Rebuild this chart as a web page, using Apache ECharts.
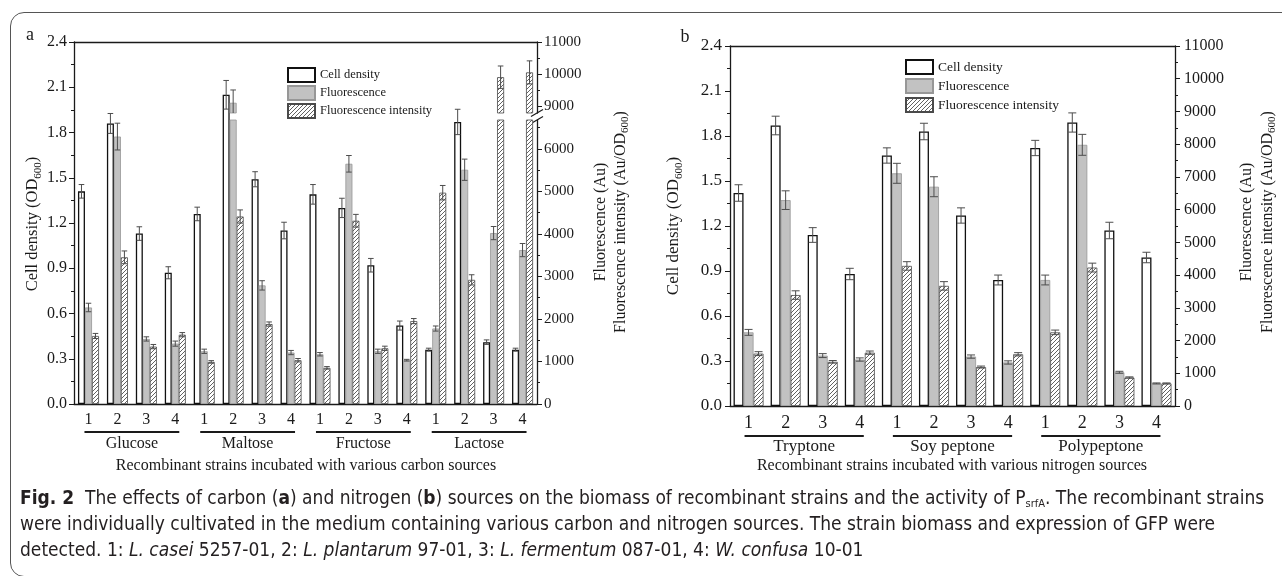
<!DOCTYPE html>
<html>
<head>
<meta charset="utf-8">
<script src="https://cdn.jsdelivr.net/npm/echarts@6/dist/echarts.min.js"></script>
<style>
  html, body { margin: 0; padding: 0; background: #fff; }
  #wrap { position: relative; width: 1282px; height: 576px; overflow: hidden; }
  #chart { position: absolute; left: 0; top: 0; width: 1282px; height: 576px; }
  #frame { position: absolute; left: 10px; top: 12px; width: 1320px; height: 563px;
           border: 1.4px solid #555; border-radius: 14px; pointer-events: none; }
  #caption { position: absolute; left: 20px; top: 484px; color: #231f20; white-space: nowrap;
             font-family: "Liberation Sans Narrow", "DejaVu Sans Condensed", sans-serif;
             font-size: 19px; line-height: 26px; }
  #caption sub { font-size: 11px; vertical-align: -3px; line-height: 0; }
</style>
</head>
<body>
<div id="wrap">
  <div id="chart"></div>
  <div id="frame"></div>
  <div id="caption">
    <div><b>Fig. 2</b>&nbsp; The effects of carbon (<b>a</b>) and nitrogen (<b>b</b>) sources on the biomass of recombinant strains and the activity of P<sub>srfA</sub>. The recombinant strains</div>
    <div>were individually cultivated in the medium containing various carbon and nitrogen sources. The strain biomass and expression of GFP were</div>
    <div>detected. 1: <i>L. casei</i> 5257-01, 2: <i>L. plantarum</i> 97-01, 3: <i>L. fermentum</i> 087-01, 4: <i>W. confusa</i> 10-01</div>
  </div>
</div>
<script>
// strains 1-4 inside every medium group
const strains = ['1', '2', '3', '4'];
const carbonSources = ['Glucose', 'Maltose', 'Fructose', 'Lactose'];
const nitrogenSources = ['Tryptone', 'Soy peptone', 'Polypeptone'];

// tick values
const fluorTicksLow = [0, 1000, 2000, 3000, 4000, 5000, 6000];
const fluorMinorLow = [500, 1500, 2500, 3500, 4500, 5500, 6500];
const fluorTicksUp = [9000, 10000, 11000];
const fluorMinorUp = [9500, 10500];

// panel a : carbon sources (Glucose 1-4, Maltose 1-4, Fructose 1-4, Lactose 1-4)
const aDensity    = [1.41, 1.86, 1.13, 0.87, 1.26, 2.05, 1.49, 1.15, 1.39, 1.30, 0.92, 0.52, 0.36, 1.87, 0.41, 0.36];
const aDensityErr = [0.045, 0.066, 0.045, 0.04, 0.045, 0.095, 0.05, 0.055, 0.065, 0.064, 0.045, 0.03, 0.01, 0.084, 0.015, 0.01];
const aFluor      = [2270, 6290, 1530, 1420, 1240, 9100, 2790, 1210, 1170, 5650, 1240, 1030, 1775, 5510, 4020, 3620];
const aFluorErr   = [100, 315, 50, 60, 50, 400, 110, 50, 40, 195, 50, 20, 60, 250, 155, 155];
const aInten      = [1600, 3450, 1350, 1630, 990, 4410, 1880, 1030, 850, 4310, 1310, 1950, 4970, 2920, 9900, 10050];
const aIntenErr   = [60, 150, 50, 50, 30, 155, 50, 40, 30, 150, 50, 60, 170, 120, 350, 360];

// panel b : nitrogen sources (Tryptone 1-4, Soy peptone 1-4, Polypeptone 1-4)
const bDensity    = [1.42, 1.87, 1.14, 0.88, 1.67, 1.83, 1.27, 0.84, 1.72, 1.89, 1.17, 0.99];
const bDensityErr = [0.055, 0.062, 0.049, 0.038, 0.051, 0.055, 0.051, 0.033, 0.051, 0.064, 0.055, 0.035];
const bFluor      = [2250, 6290, 1540, 1420, 7110, 6700, 1510, 1330, 3850, 7980, 1030, 690];
const bFluorErr   = [90, 285, 60, 50, 305, 305, 50, 50, 150, 320, 30, 15];
const bInten      = [1600, 3390, 1350, 1630, 4280, 3670, 1190, 1580, 2250, 4230, 870, 690];
const bIntenErr   = [60, 130, 40, 50, 130, 130, 30, 50, 70, 135, 20, 15];

const aCats = carbonSources.flatMap(s => strains.map(n => s + '-' + n));
const bCats = nitrogenSources.flatMap(s => strains.map(n => s + '-' + n));

const FONT = '"Liberation Serif", "Times New Roman", serif';
const INK = '#1a1a1a';

function makeHatch() {
    const c = document.createElement('canvas');
    c.width = 4; c.height = 4;
    const g = c.getContext('2d');
    g.fillStyle = '#fff';
    g.fillRect(0, 0, 4, 4);
    g.strokeStyle = '#505050';
    g.lineWidth = 0.9;
    g.beginPath();
    g.moveTo(-1, 5); g.lineTo(5, -1);
    g.moveTo(-1, 1); g.lineTo(1, -1);
    g.moveTo(3, 5); g.lineTo(5, 3);
    g.stroke();
    return c;
}

const barStyles = {
    'Cell density': { color: '#fff', borderColor: '#111', borderWidth: 1.3 },
    'Fluorescence': { color: '#c2c2c2', borderColor: '#979797', borderWidth: 0.8 },
    'Fluorescence intensity': { color: { image: makeHatch(), repeat: 'repeat' }, borderColor: '#4a4a4a', borderWidth: 0.8 }
};

function bar(name, xi, yi, data, w, real) {
    return {
        type: 'bar', name: real ? name : ('_' + name + xi), xAxisIndex: xi, yAxisIndex: yi,
        data: data, barWidth: w, barGap: '0%', itemStyle: barStyles[name], silent: true
    };
}

function errBars(xi, yi, values, errs, slot, w) {
    return {
        type: 'custom', xAxisIndex: xi, yAxisIndex: yi, clip: true, silent: true, z: 5,
        data: values.map((v, i) => [i, v, errs[i]]),
        renderItem(params, api) {
            const i = api.value(0), v = api.value(1), e = api.value(2);
            const x = api.coord([i, v])[0] + slot * w;
            const top = api.coord([i, v + e])[1];
            const bot = api.coord([i, v - e])[1];
            const hw = w * 0.4;
            const st = { stroke: '#4d4d4d', lineWidth: 1 };
            return {
                type: 'group', children: [
                    { type: 'line', shape: { x1: x, y1: top, x2: x, y2: bot }, style: st },
                    { type: 'line', shape: { x1: x - hw, y1: top, x2: x + hw, y2: top }, style: st },
                    { type: 'line', shape: { x1: x - hw, y1: bot, x2: x + hw, y2: bot }, style: st }
                ]
            };
        }
    };
}

function catAxis(grid, cats, size, opts) {
    return Object.assign({
        type: 'category', gridIndex: grid, data: cats, position: 'bottom',
        axisLine: { lineStyle: { color: INK, width: 1.3 } },
        axisTick: { alignWithLabel: true, length: 5, lineStyle: { color: INK } },
        axisLabel: { interval: 0, margin: 8, fontFamily: FONT, fontSize: size, color: INK,
                     formatter: v => v.split('-').pop() },
        splitLine: { show: false }
    }, opts || {});
}
function groupAxis(grid, groups, size, margin) {
    return {
        type: 'category', gridIndex: grid, data: groups, position: 'bottom',
        axisLine: { show: false }, axisTick: { show: false },
        axisLabel: { interval: 0, margin: margin, fontFamily: FONT, fontSize: size, color: INK }
    };
}
function topLine(grid, cats) {
    return {
        type: 'category', gridIndex: grid, data: cats, position: 'top',
        axisLine: { lineStyle: { color: INK, width: 1.3 } },
        axisTick: { show: false }, axisLabel: { show: false }
    };
}
const plain = v => String(v);
function valAxis(grid, pos, min, max, opts) {
    return Object.assign({
        type: 'value', gridIndex: grid, position: pos, min: min, max: max,
        axisLine: { show: true, lineStyle: { color: INK, width: 1.3 } },
        axisTick: { show: true, length: 5, lineStyle: { color: INK } },
        splitLine: { show: false }
    }, opts || {});
}
function minorAxis(grid, min, max, vals) {
    return {
        type: 'value', gridIndex: grid, position: 'right', min: min, max: max,
        axisLine: { show: false },
        axisTick: { show: true, length: 3, customValues: vals, lineStyle: { color: INK } },
        axisLabel: { show: false }, splitLine: { show: false }
    };
}

const chart = echarts.init(document.getElementById('chart'), null, { renderer: 'canvas' });

const legendBase = {
    orient: 'vertical', icon: 'rect', itemWidth: 27, itemHeight: 14, padding: 0,
    selectedMode: false,
    data: ['Cell density', 'Fluorescence', 'Fluorescence intensity']
};

const option = {
    animation: false,
    backgroundColor: '#fff',
    grid: [
        { left: 74, top: 42, width: 463, height: 362 },   // a: full height (cell density)
        { left: 74, top: 120, width: 463, height: 284 },  // a: below the break
        { left: 74, top: 42, width: 463, height: 71 },    // a: above the break
        { left: 730, top: 46, width: 445, height: 360 }   // b
    ],
    legend: [
        Object.assign({}, legendBase, { left: 287, top: 67, itemGap: 2, textStyle: { fontFamily: FONT, color: INK, fontSize: 12.5 } }),
        Object.assign({}, legendBase, { left: 905, top: 59, itemGap: 3, textStyle: { fontFamily: FONT, color: INK, fontSize: 13.5 } })
    ],
    xAxis: [
        catAxis(0, aCats, 16),                              // 0
        groupAxis(0, carbonSources, 16, 32),                // 1
        topLine(0, aCats),                                  // 2
        catAxis(1, aCats, 16, { show: false }),             // 3
        catAxis(2, aCats, 16, { show: false }),             // 4
        catAxis(3, bCats, 18),                              // 5
        groupAxis(3, nitrogenSources, 17, 32),              // 6
        topLine(3, bCats)                                   // 7
    ],
    yAxis: [
        valAxis(0, 'left', 0, 2.4, {                        // 0
            interval: 0.3,
            axisLabel: { margin: 7, fontFamily: FONT, fontSize: 16, color: INK, formatter: v => v.toFixed(1) },
            minorTick: { show: true, splitNumber: 2, length: 3, lineStyle: { color: INK } }
        }),
        valAxis(1, 'right', 0, 6680, {                      // 1
            axisTick: { show: true, length: 5, customValues: fluorTicksLow, lineStyle: { color: INK } },
            axisLabel: { margin: 7, fontFamily: FONT, fontSize: 15, color: INK, customValues: fluorTicksLow, formatter: plain }
        }),
        valAxis(2, 'right', 8780, 11000, {                  // 2
            axisTick: { show: true, length: 5, customValues: fluorTicksUp, lineStyle: { color: INK } },
            axisLabel: { margin: 7, fontFamily: FONT, fontSize: 15, color: INK, customValues: fluorTicksUp, formatter: plain }
        }),
        minorAxis(1, 0, 6680, fluorMinorLow),               // 3
        minorAxis(2, 8780, 11000, fluorMinorUp),            // 4
        valAxis(3, 'left', 0, 2.4, {                        // 5
            interval: 0.3,
            axisLabel: { margin: 8, fontFamily: FONT, fontSize: 17, color: INK, formatter: v => v.toFixed(1) },
            minorTick: { show: true, splitNumber: 2, length: 3, lineStyle: { color: INK } }
        }),
        valAxis(3, 'right', 0, 11000, {                     // 6
            interval: 1000,
            axisLabel: { margin: 9, fontFamily: FONT, fontSize: 16, color: INK, formatter: plain },
            minorTick: { show: true, splitNumber: 2, length: 3, lineStyle: { color: INK } }
        })
    ],
    series: [
        // panel a, full grid: cell density
        bar('Cell density', 0, 0, aDensity, 7, true),
        bar('Fluorescence', 0, 0, [], 7, false),
        bar('Fluorescence intensity', 0, 0, [], 7, false),
        // panel a, lower segment
        bar('Cell density', 3, 1, [], 7, false),
        bar('Fluorescence', 3, 1, aFluor, 7, true),
        bar('Fluorescence intensity', 3, 1, aInten, 7, true),
        // panel a, upper segment
        bar('Cell density', 4, 2, [], 7, false),
        bar('Fluorescence', 4, 2, aFluor, 7, true),
        bar('Fluorescence intensity', 4, 2, aInten, 7, true),
        // panel b
        bar('Cell density', 5, 5, bDensity, 10, true),
        bar('Fluorescence', 5, 6, bFluor, 10, true),
        bar('Fluorescence intensity', 5, 6, bInten, 10, true),
        // error bars
        errBars(0, 0, aDensity, aDensityErr, -1, 7),
        errBars(3, 1, aFluor, aFluorErr, 0, 7),
        errBars(3, 1, aInten, aIntenErr, 1, 7),
        errBars(4, 2, aFluor, aFluorErr, 0, 7),
        errBars(4, 2, aInten, aIntenErr, 1, 7),
        errBars(5, 5, bDensity, bDensityErr, -1, 10),
        errBars(5, 6, bFluor, bFluorErr, 0, 10),
        errBars(5, 6, bInten, bIntenErr, 1, 10)
    ]
};
chart.setOption(option);

// titles, group underlines, axis break marks
const sub = { s: { fontSize: 11, fontFamily: FONT, fill: INK, verticalAlign: 'bottom', lineHeight: 12 } };
function label(text, x, y, size, rot, lh) {
    return {
        type: 'text', x: x, y: y, rotation: rot || 0, silent: true,
        style: { text: text, fontFamily: FONT, fontSize: size, fill: INK, align: 'center',
                 verticalAlign: 'middle', lineHeight: lh || size + 4, rich: sub }
    };
}
function underline(xi, from, to, y) {
    const x1 = chart.convertToPixel({ xAxisIndex: xi }, from) - 4;
    const x2 = chart.convertToPixel({ xAxisIndex: xi }, to) + 4;
    return { type: 'line', silent: true, shape: { x1: x1, y1: y, x2: x2, y2: y }, style: { stroke: INK, lineWidth: 1.8 } };
}
const graphics = [
    label('a', 30, 35, 18),
    label('b', 685, 37, 18),
    label('Cell density (OD{s|600})', 33, 224, 16.5, Math.PI / 2, 22),
    label('Cell density (OD{s|600})', 674, 226, 17, Math.PI / 2, 22),
    label('Fluorescence (Au)\nFluorescence intensity (Au/OD{s|600})', 611, 222, 16, Math.PI / 2, 20),
    label('Fluorescence (Au)\nFluorescence intensity (Au/OD{s|600})', 1257, 222, 16, Math.PI / 2, 21),
    label('Recombinant strains incubated with various carbon sources', 306, 466, 16),
    label('Recombinant strains incubated with various nitrogen sources', 952, 466, 16),
    { type: 'line', silent: true, shape: { x1: 531, y1: 116.5, x2: 543, y2: 109.5 }, style: { stroke: INK, lineWidth: 1.2 } },
    { type: 'line', silent: true, shape: { x1: 531, y1: 123.5, x2: 543, y2: 116.5 }, style: { stroke: INK, lineWidth: 1.2 } }
];
carbonSources.forEach((s, g) => graphics.push(underline(0, g * 4, g * 4 + 3, 432)));
nitrogenSources.forEach((s, g) => graphics.push(underline(5, g * 4, g * 4 + 3, 436)));
chart.setOption({ graphic: graphics });
</script>
</body>
</html>
